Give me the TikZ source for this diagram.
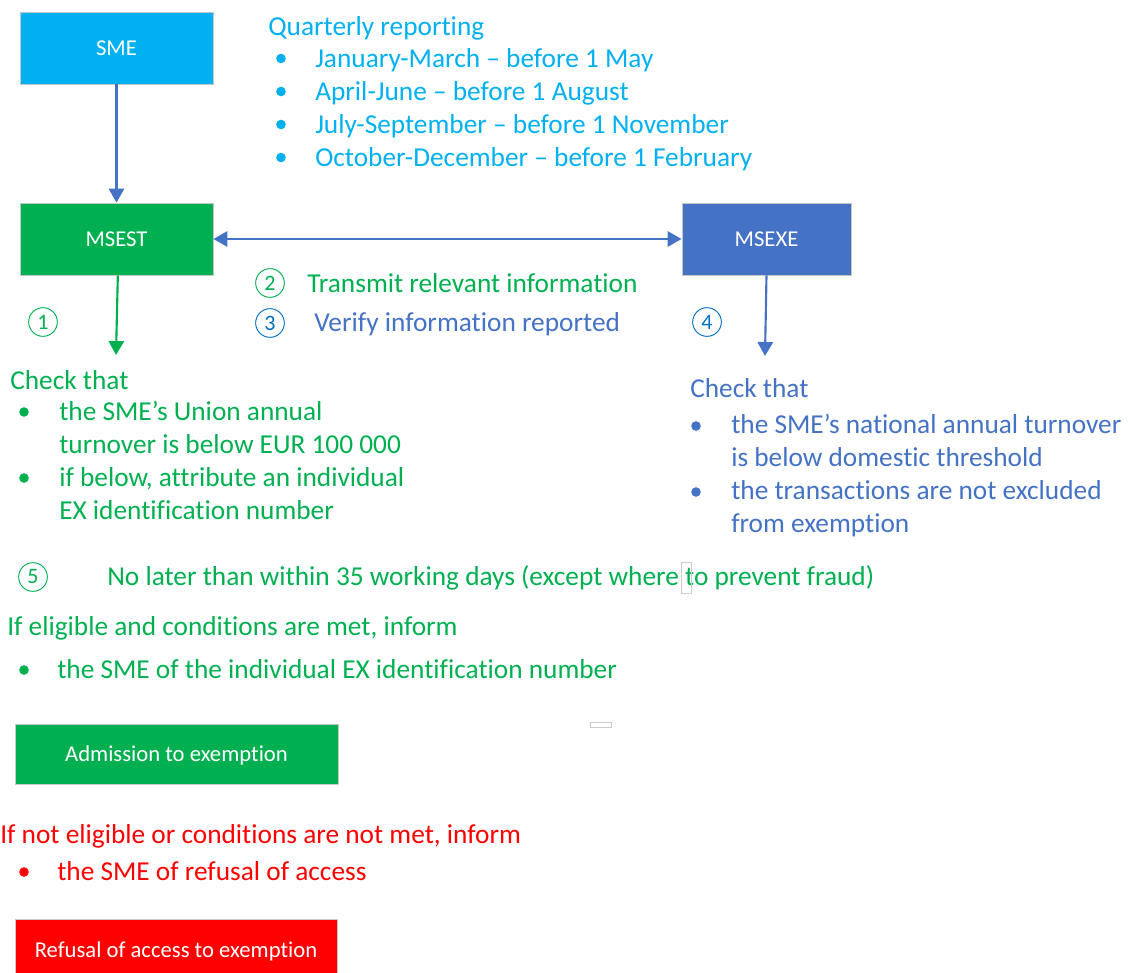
\documentclass[tikz,border=0pt]{standalone}
\usepackage{fontspec}
\setmainfont{Carlito}[Ligatures=NoCommon]
\usetikzlibrary{arrows.meta}

\definecolor{smecyan}{HTML}{00B0F0}
\definecolor{okgreen}{HTML}{00B050}
\definecolor{msblue}{HTML}{4472C4}
\definecolor{numblue}{HTML}{0070C0}
\definecolor{nored}{HTML}{FF0000}

\begin{document}
\begin{tikzpicture}[x=0.75pt,y=-0.75pt,
  box/.style={rectangle, draw=black!22, line width=0.6pt, text=white,
    font=\fontsize{17}{20}\selectfont, inner sep=0pt,
    text height=10.9pt, text depth=0pt},
  txt/.style={anchor=base west, inner sep=0pt, font=\fontsize{20.5}{24}\selectfont},
  num/.style={circle, draw, line width=0.7pt, minimum size=21.5pt, inner sep=0pt,
    font=\fontsize{16.5}{18}\selectfont},
  link/.style={line width=1.6pt, -{Triangle[length=10.5pt,width=11.5pt]}},
  twoway/.style={line width=1.6pt, {Triangle[length=10.5pt,width=11.5pt]}-{Triangle[length=10.5pt,width=11.5pt]}},
  mark box/.style={draw=black!20, line width=0.6pt}
]
\clip (0,0) rectangle (1128,972);
\useasboundingbox (0,0) rectangle (1128,972);

% boxes
\node[box, fill=smecyan, minimum width=144.75pt, minimum height=54pt] (sme) at (116.5,48) {SME};
\node[box, fill=okgreen, minimum width=144.75pt, minimum height=54pt] (msest) at (116.5,239) {MSEST};
\node[box, fill=msblue, minimum width=126.75pt, minimum height=54pt] (msexe) at (766.5,239) {MSEXE};
\node[box, fill=okgreen, minimum width=242.25pt, minimum height=45pt] (admit) at (176.5,754) {Admission to exemption};
\node[box, fill=nored, minimum width=241.5pt, minimum height=46.5pt] (refuse) at (176,950) {Refusal of access to exemption};

% connectors
\coordinate (estend) at (116,355);
\coordinate (exeend) at (765,356);
\draw[link, msblue] (sme.south) -- (msest.north);
\draw[twoway, msblue] (msest.east) -- (msexe.west);
\draw[link, okgreen] ([xshift=1pt]msest.south) -- (estend);
\draw[link, msblue] (msexe.south) -- (exeend);

% quarterly reporting
\begin{scope}[smecyan]
\node[txt] (qr) at (268,35) {Quarterly reporting};
\foreach \y/\t [count=\i] in {67/{January-March – before 1 May},
    100/{April-June – before 1 August},
    133/{July-September – before 1 November},
    166/{October-December – before 1 February}} {
  \fill (281,\y-8.5) circle (3.6pt);
  \node[txt] (q\i) at (315,\y) {\t};
}
\end{scope}

% step numbers and middle labels
\node[num, okgreen] (n1) at (43,322) {1};
\node[num, okgreen] (n2) at (270,283) {2};
\node[num, numblue] (n3) at (270,323) {3};
\node[num, numblue] (n4) at (707,322) {4};
\node[num, okgreen] (n5) at (33,577) {5};
\node[txt, okgreen] (transmit) at (307,292) {Transmit relevant information};
\node[txt, msblue] (verify) at (314,331) {Verify information reported};

% left check list
\begin{scope}[okgreen]
\node[txt] (lc) at (10,389) {Check that};
\fill (24,412) circle (3.6pt);
\fill (24,478) circle (3.6pt);
\node[txt] (lc1) at (59,420) {the SME’s Union annual};
\node[txt] (lc2) at (59,453) {turnover is below EUR 100 000};
\node[txt] (lc3) at (59,486) {if below, attribute an individual};
\node[txt] (lc4) at (59,519) {EX identification number};
\end{scope}

% right check list
\begin{scope}[msblue]
\node[txt] (rc) at (690,397) {Check that};
\fill (696,426) circle (3.6pt);
\fill (696,492) circle (3.6pt);
\node[txt] (rc1) at (731,433) {the SME’s national annual turnover};
\node[txt] (rc2) at (731,466) {is below domestic threshold};
\node[txt] (rc3) at (731,499) {the transactions are not excluded};
\node[txt] (rc4) at (731,532) {from exemption};
\end{scope}

% time limit
\node[txt, okgreen] (limit) at (107,585) {No later than within 35 working days (except where to prevent fraud)};
\draw[mark box] (681,562) rectangle (691,593);

% outcomes
\node[txt, okgreen] (yes) at (7,635) {If eligible and conditions are met, inform};
\fill[okgreen] (24,670) circle (3.6pt);
\node[txt, okgreen] (yes1) at (57,678) {the SME of the individual EX identification number};
\draw[mark box] (590,722) rectangle (611,727);

\node[txt, nored] (no) at (0,843) {If not eligible or conditions are not met, inform};
\fill[nored] (24,872) circle (3.6pt);
\node[txt, nored] (no1) at (57,880) {the SME of refusal of access};
\end{tikzpicture}
\end{document}
